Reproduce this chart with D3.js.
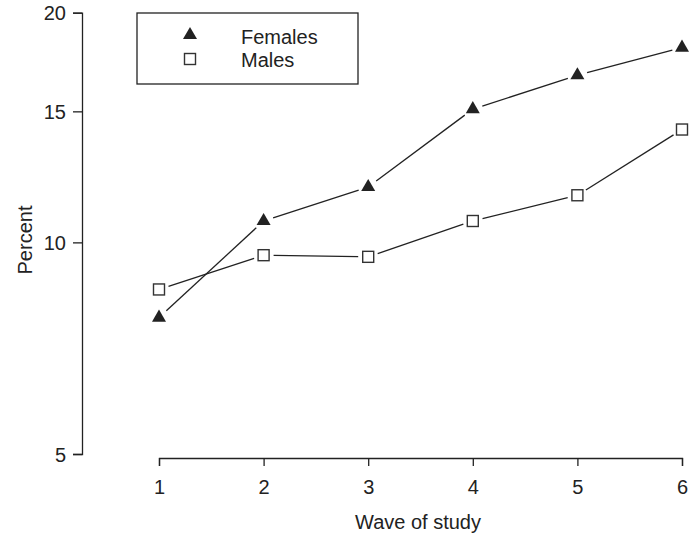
<!DOCTYPE html>
<html>
<head>
<meta charset="utf-8">
<script src="https://cdn.jsdelivr.net/npm/d3@7"></script>
<style>
  body { margin: 0; background: #fff; }
  svg { display: block; }
  text { font-family: "Liberation Sans", Arial, Helvetica, sans-serif; fill: #222; }
</style>
</head>
<body>
<script>
// data (percent, logit-scaled y axis)
var waves = [1, 2, 3, 4, 5, 6];
var females = [7.85, 10.7, 11.9, 15.1, 16.7, 18.1];
var males = [8.6, 9.6, 9.55, 10.7, 11.6, 14.2];
var xTicks = [1, 2, 3, 4, 5, 6];
var yTicks = [5, 10, 15, 20];
var seriesNames = ["Females", "Males"];

var width = 690, height = 538;

var svg = d3.select("body")
    .append("svg")
    .attr("width", width)
    .attr("height", height);

// y axis is on the logit scale
var logit = p => Math.log(p / (1 - p));
var invlogit = v => 1 / (1 + Math.exp(-v));

var x = d3.scaleLinear().domain([1, 6]).range([159, 682]);
var y = d3.scaleLinear().domain([logit(0.05), logit(0.20)]).range([454, 12.7]);
var yp = pct => y(logit(pct / 100));

var ink = "#222";
var fs = "20px";

// x axis
var gx = svg.append("g")
    .attr("transform", "translate(0,458)")
    .call(d3.axisBottom(x).tickValues(xTicks).tickSizeOuter(0).tickSize(8).tickPadding(14).tickFormat(d3.format("d")));
// y axis
var gy = svg.append("g")
    .attr("transform", "translate(82,0)")
    .call(d3.axisLeft(y).tickValues(yTicks.map(t => logit(t / 100)))
        .tickSizeOuter(0).tickSize(9).tickPadding(7)
        .tickFormat(v => Math.round(invlogit(v) * 100)));

[gx, gy].forEach(g => {
    g.selectAll("path, line").attr("stroke", ink).attr("stroke-width", 1.3);
    g.selectAll("text").attr("font-size", fs).attr("font-family", null).attr("fill", ink);
});
gy.selectAll("text").attr("dy", "0.36em");

// axis titles
svg.append("text")
    .attr("x", 418)
    .attr("y", 529)
    .attr("text-anchor", "middle")
    .attr("font-size", fs)
    .text("Wave of study");

svg.append("text")
    .attr("transform", "translate(32,240) rotate(-90)")
    .attr("text-anchor", "middle")
    .attr("font-size", fs)
    .text("Percent");

// lines with gaps around the points (like type="b")
var gap = 10;
function drawSeries(vals) {
    var pts = waves.map((w, i) => [x(w), yp(vals[i])]);
    for (var i = 0; i < pts.length - 1; i++) {
        var a = pts[i], b = pts[i + 1];
        var dx = b[0] - a[0], dy = b[1] - a[1];
        var len = Math.sqrt(dx * dx + dy * dy);
        var ux = dx / len, uy = dy / len;
        svg.append("line")
            .attr("x1", a[0] + ux * gap).attr("y1", a[1] + uy * gap)
            .attr("x2", b[0] - ux * gap).attr("y2", b[1] - uy * gap)
            .attr("stroke", ink)
            .attr("stroke-width", 1.3);
    }
    return pts;
}

var tri = d3.symbol().type(d3.symbolTriangle).size(85);

drawSeries(females);
svg.append("g").selectAll("path")
    .data(waves)
    .enter().append("path")
    .attr("d", tri)
    .attr("transform", (d, i) => `translate(${x(d)},${yp(females[i])})`)
    .attr("fill", ink);

drawSeries(males);
svg.append("g").selectAll("rect")
    .data(waves)
    .enter().append("rect")
    .attr("x", d => x(d) - 5.5)
    .attr("y", (d, i) => yp(males[i]) - 5.5)
    .attr("width", 11)
    .attr("height", 11)
    .attr("fill", "#fff")
    .attr("stroke", "#333")
    .attr("stroke-width", 1.4);

// legend
var lg = svg.append("g");
lg.append("rect")
    .attr("x", 137).attr("y", 13)
    .attr("width", 221).attr("height", 71)
    .attr("fill", "none")
    .attr("stroke", ink)
    .attr("stroke-width", 1.3);

lg.append("path")
    .attr("d", tri)
    .attr("transform", "translate(190,35)")
    .attr("fill", ink);
lg.append("rect")
    .attr("x", 190 - 5.5).attr("y", 59 - 5.5)
    .attr("width", 11).attr("height", 11)
    .attr("fill", "#fff")
    .attr("stroke", "#333")
    .attr("stroke-width", 1.4);

lg.selectAll("text")
    .data(seriesNames)
    .enter().append("text")
    .attr("x", 241)
    .attr("y", (d, i) => 37 + i * 23)
    .attr("dy", "0.36em")
    .attr("font-size", fs)
    .text(d => d);
</script>
</body>
</html>
